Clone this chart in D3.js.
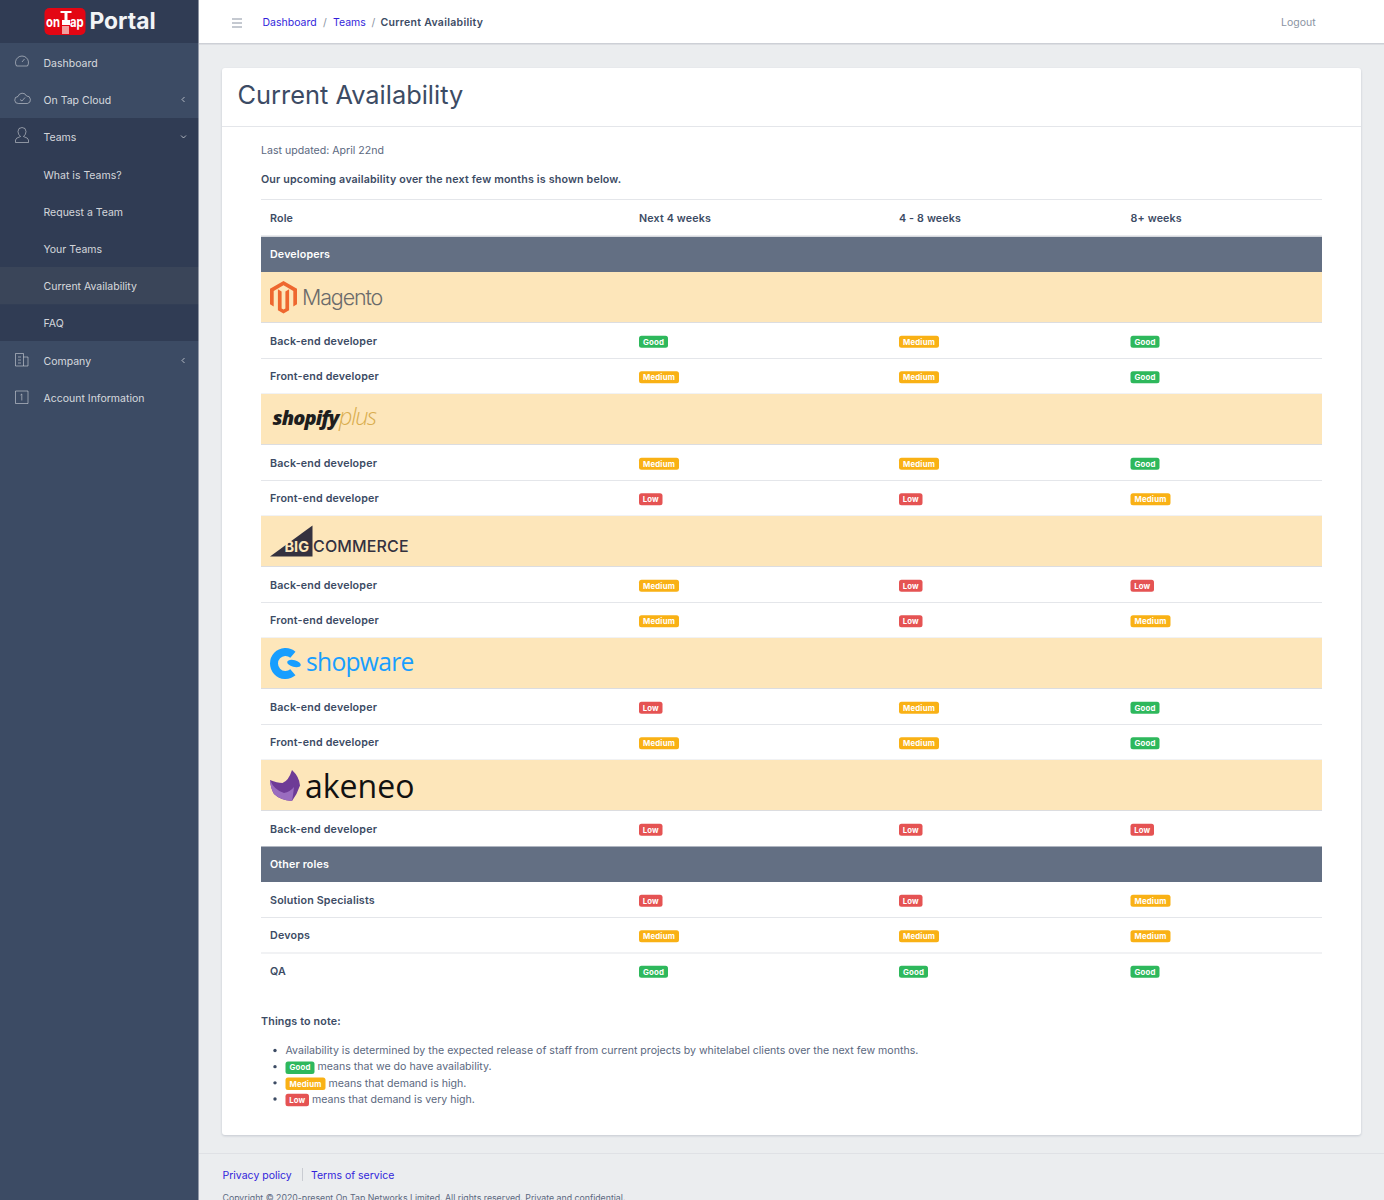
<!DOCTYPE html>
<html lang="en">

<head>
  <meta charset="UTF-8">
  <title>Current Availability</title>
  <style>
    html, body { margin: 0; padding: 0; background: #ebedef; overflow: hidden; }
    svg { display: block; }
    text { font-family: Inter, 'Noto Sans', sans-serif; }
  </style>
</head>

<body>
  <svg id="svg" width="1384" height="1200"></svg>

  <script src="https://d3js.org/d3.v7.min.js"></script>
  <script>
    // chart data
    const columns = ['Next 4 weeks', '4 - 8 weeks', '8+ weeks']
    const levels = ['Good', 'Medium', 'Low']

    const rowKinds = ['section', 'logo', 'role', 'role', 'logo', 'role', 'role', 'logo', 'role', 'role',
      'logo', 'role', 'role', 'logo', 'role', 'section', 'role', 'role', 'role']
    const rowLabels = ['Developers', 'magento', 'Back-end developer', 'Front-end developer',
      'shopify', 'Back-end developer', 'Front-end developer',
      'bigcommerce', 'Back-end developer', 'Front-end developer',
      'shopware', 'Back-end developer', 'Front-end developer',
      'akeneo', 'Back-end developer',
      'Other roles', 'Solution Specialists', 'Devops', 'QA']
    const next4 = [null, null, 'Good', 'Medium', null, 'Medium', 'Low', null, 'Medium', 'Medium',
      null, 'Low', 'Medium', null, 'Low', null, 'Low', 'Medium', 'Good']
    const weeks4to8 = [null, null, 'Medium', 'Medium', null, 'Medium', 'Low', null, 'Low', 'Low',
      null, 'Medium', 'Medium', null, 'Low', null, 'Low', 'Medium', 'Good']
    const weeks8plus = [null, null, 'Good', 'Good', null, 'Good', 'Medium', null, 'Low', 'Medium',
      null, 'Good', 'Good', null, 'Low', null, 'Medium', 'Medium', 'Good']

    const navItems = ['Dashboard', 'On Tap Cloud', 'Teams', 'What is Teams?', 'Request a Team', 'Your Teams',
      'Current Availability', 'FAQ', 'Company', 'Account Information']
    const crumbs = ['Dashboard', 'Teams', 'Current Availability']
    const notes = [
      [null, 'Availability is determined by the expected release of staff from current projects by whitelabel clients over the next few months.'],
      ['Good', 'means that we do have availability.'],
      ['Medium', 'means that demand is high.'],
      ['Low', 'means that demand is very high.']
    ]

    const svg = d3.select('#svg')
    const navy = '#3c4b64'
    const greyText = '#5b6880'
    const linkBlue = '#321fdb'

    const levelColor = d3.scaleOrdinal().domain(levels).range(['#2eb85c', '#f9b115', '#e55353'])
    const badgeWidth = d3.scaleOrdinal().domain(levels).range([29, 40, 23.5])
    const colX = d3.scaleOrdinal().domain(columns).range([639, 899, 1130.5])

    const kindHeight = { section: 35.5, logo: 51, role: 35.5 }
    const rowTop = []
    let cursor = 236.5
    rowKinds.forEach(k => { rowTop.push(cursor); cursor += kindHeight[k] })

    function label(parent, str, x, y, size, fill, weight, spacing) {
      return parent.append('text')
        .text(str)
        .attr('x', x)
        .attr('y', y)
        .attr('font-size', size)
        .attr('fill', fill)
        .attr('font-weight', weight || 400)
        .attr('letter-spacing', spacing || 0)
    }

    function rect(parent, x, y, w, h, fill, rx) {
      return parent.append('rect')
        .attr('x', x).attr('y', y).attr('width', w).attr('height', h)
        .attr('fill', fill).attr('rx', rx || 0)
    }

    function badge(parent, level, x, midY, w, h, size) {
      rect(parent, x, midY - h / 2, w, h, levelColor(level), 2.5)
      label(parent, level, x + w / 2, midY + size * 0.36, size, '#fff', 700, 0.15)
        .attr('text-anchor', 'middle')
    }

    // sidebar
    const nav = svg.append('g')
    rect(svg, 199, 0, 1185, 1200, '#ebedef')
    rect(nav, 0, 0, 199, 1200, navy)
    rect(nav, 0, 0, 199, 43, '#303c54')
    rect(nav, 0, 118, 199, 223, '#303c54')
    rect(nav, 0, 267, 199, 37.3, '#3a4559')
    rect(nav, 198, 0, 1.5, 1200, '#d8dbe0').attr('opacity', 0.55)

    const navY = d3.scalePoint().domain(d3.range(navItems.length)).range([63, 398])
    navItems.forEach((d, i) => {
      label(nav, d, 43.5, navY(i) + 3.9, 10.5, 'rgba(255,255,255,0.8)', 400, 0)
    })

    // nav icons, thin outlines only
    const iconStroke = 'rgba(255,255,255,0.45)'
    const icons = nav.append('g').attr('fill', 'none').attr('stroke', iconStroke).attr('stroke-width', 1)
    icons.append('path').attr('d', 'M16.5 66 a6.5 6.5 0 1 1 11 0 Z M22 62 l2.5 -3')
    icons.append('path').attr('d', 'M18.5 103.5 a3.5 3.5 0 0 1 -.5 -7 a4.5 4.5 0 0 1 8.5 -.5 a3.8 3.8 0 0 1 1 7.5 Z M20 99.5 l2 1.5 l3 -3.5')
    icons.append('path').attr('d', 'M15.5 142.5 v-2.5 q0 -2 5 -3.5 q-2.5 -2 -2.5 -5 q0 -4 4 -4 q4 0 4 4 q0 3 -2.5 5 q5 1.5 5 3.5 v2.5 Z')
    icons.append('path').attr('d', 'M15.5 366 v-12.5 h8 v12.5 Z M23.5 357 h4.5 v9 h-4.5 M18 357 h3 M18 360 h3 M18 363 h3')
    icons.append('path').attr('d', 'M15.5 391 h12.5 v12.5 h-12.5 Z M21.8 394 v6.5 M20.5 395 l1.3 -1')

    const chev = nav.append('g').attr('fill', 'none').attr('stroke', 'rgba(255,255,255,0.6)').attr('stroke-width', 1)
    chev.append('path').attr('d', 'M184.5 97 l-2.5 2.5 l2.5 2.5')
    chev.append('path').attr('d', 'M184.5 358 l-2.5 2.5 l2.5 2.5')
    chev.append('path').attr('d', 'M181 135.5 l2.5 2.5 l2.5 -2.5')

    // brand
    rect(nav, 44.5, 8, 41, 27, '#e30613', 5)
    label(nav, 'on', 0, 0, 14.5, '#fff', 700, 0).attr('transform', 'translate(46 26.5) scale(0.78 1)')
    label(nav, 'ap', 0, 0, 14.5, '#fff', 700, 0).attr('transform', 'translate(70 26.5) scale(0.78 1)')
    rect(nav, 60.5, 11, 11, 2, '#fff')
    rect(nav, 64.5, 11, 3, 11, '#fff')
    rect(nav, 62, 20, 8, 5, '#fff')
    rect(nav, 62, 26, 7, 8, '#f2a0a0')
    label(nav, 'Portal', 89.5, 29, 22.8, '#f2f4f6', 700, 0)

    // top header
    const header = svg.append('g')
    rect(header, 199, 0, 1185, 43, '#fff')
    rect(header, 199, 43, 1185, 1.5, '#cdd0d6')
    const burger = header.append('g').attr('stroke', '#8a93a2').attr('stroke-width', 1)
    ;[19, 23, 27].forEach(y => burger.append('line').attr('x1', 232).attr('x2', 242).attr('y1', y).attr('y2', y))

    const crumbX = d3.scaleOrdinal().domain(crumbs).range([262.5, 333, 380.5])
    crumbs.forEach((d, i) => {
      const last = i === crumbs.length - 1
      label(header, d, crumbX(d), 26, 10.5, last ? navy : linkBlue, last ? 600 : 400, last ? 0.3 : 0)
    })
    label(header, '/', 323, 26, 10.5, '#8a93a2')
    label(header, '/', 371.5, 26, 10.5, '#8a93a2')
    label(header, 'Logout', 1281, 26, 10.5, '#8a93a2', 400, 0)

    // card
    const card = svg.append('g')
    rect(card, 222, 68, 1139, 1067, '#fff', 3)
      .style('filter', 'drop-shadow(0 1px 1px rgba(60,75,100,0.22))')
    rect(card, 222, 126, 1139, 1, '#e4e6ea')
    label(card, 'Current Availability', 237.5, 104, 25.4, navy, 400, 0)
    label(card, 'Last updated: April 22nd', 261, 154.3, 10.6, greyText, 400, 0)
    label(card, 'Our upcoming availability over the next few months is shown below.', 261, 183, 10.7, navy, 600, 0.16)

    // table head
    const table = svg.append('g')
    const tableX = 261
    const tableW = 1061
    rect(table, tableX, 199, tableW, 1, '#e4e6ea')
    label(table, 'Role', 270, 221.5, 10.7, navy, 600, 0.15)
    columns.forEach(c => label(table, c, colX(c), 221.5, 10.7, navy, 600, 0.15))

    const logoDraw = {
      magento(g, y) {
        g.append('path')
          .attr('fill', '#ee672f')
          .attr('d', `M283.5 ${y + 9} l13.5 7.8 v15.5 l-3.7 2.1 v-15.5 l-9.8 -5.7 l-9.8 5.7 v15.5 l-3.7 -2.1 v-15.5 Z`)
        g.append('path')
          .attr('fill', '#ee672f')
          .attr('d', `M281.6 ${y + 19.5} v17 l1.9 1.1 l1.9 -1.1 v-17 l3.7 -2.2 v21 l-5.6 3.3 l-5.6 -3.3 v-21 Z`)
        label(g, 'Magento', 302, y + 33, 21.5, '#6b6b6b', 300, -1.15)
      },
      shopify(g, y) {
        label(g, 'shopify', 272.5, y + 31, 20, '#1e1e1e', 800, -0.9)
          .attr('font-style', 'italic').style('font-family', "'Open Sans'")
        label(g, 'plus', 339, y + 31, 23.5, '#d9ad4e', 300, -1.3)
          .attr('font-style', 'italic').style('font-family', "'Open Sans'")
      },
      bigcommerce(g, y) {
        g.append('path')
          .attr('fill', '#34313f')
          .attr('d', `M270 ${y + 40.5} L312.5 ${y + 9.5} V${y + 40.5} Z`)
        label(g, 'BIG', 284.5, y + 36, 14.5, '#fde6ba', 700, 0)
        label(g, 'COMMERCE', 313, y + 36, 16, '#34313f', 500, 0.15)
      },
      shopware(g, y) {
        g.append('path')
          .attr('fill', 'none')
          .attr('stroke', '#189eff')
          .attr('stroke-width', 8)
          .attr('d', `M292.9 ${y + 16.7} A11.5 11.5 0 1 0 292.9 ${y + 34.3}`)
        g.append('ellipse')
          .attr('cx', 294).attr('cy', y + 25.5).attr('rx', 7).attr('ry', 3.4)
          .attr('fill', '#189eff')
          .attr('transform', `rotate(15 294 ${y + 25.5})`)
        label(g, 'shopware', 306, y + 33, 24.6, '#189eff', 400, -0.7)
          .style('font-family', "'Open Sans'")
      },
      akeneo(g, y) {
        g.append('path')
          .attr('fill', '#6e3b96')
          .attr('d', `M270 ${y + 20} q7 3 12.5 3 q6 -2 9.5 -13 q7.5 7 8 15.5 q-3 9 -8 15.5 q-12 -1 -18 -7 q-3.5 -6 -4 -14 Z`)
        g.append('path')
          .attr('fill', '#9a6cbf')
          .attr('d', `M270 ${y + 20} q4 10 14 13 q6 -1 10 -6 q-1 9 -2 14 q-12 -1 -18 -7 q-3.5 -6 -4 -14 Z`)
        label(g, 'akeneo', 305, y + 38, 32, '#111', 400, 0)
          .style('font-family', "'Open Sans'")
      }
    }

    // rows
    rowKinds.forEach((kind, i) => {
      const y = rowTop[i]
      const h = kindHeight[kind]
      const g = table.append('g')
      if (kind === 'section') {
        rect(g, tableX, y, tableW, h, '#636f83')
        label(g, rowLabels[i], 270, y + h / 2 + 4.1, 10.7, '#fff', 600, 0.15)
        return
      }
      if (kind === 'logo') {
        rect(g, tableX, y, tableW, h - 0.5, '#fde6ba')
        rect(g, tableX, y + h - 1, tableW, 1, '#dcdde0')
        logoDraw[rowLabels[i]](g, y)
        return
      }
      if (rowKinds[i + 1] === 'role' || rowKinds[i + 1] === 'logo') {
        rect(g, tableX, y + h - 0.5, tableW, 1, '#e4e6ea')
      }
      label(g, rowLabels[i], 270, y + h / 2 + 4, 10.7, navy, 600, 0.18)
      const vals = [next4[i], weeks4to8[i], weeks8plus[i]]
      columns.forEach((c, j) => {
        badge(g, vals[j], colX(c), y + h / 2 + 1, badgeWidth(vals[j]), 12, 7.8)
      })
    })

    // rule under the table head sits on top of the first row
    rect(table, tableX, 235.5, tableW, 1.5, '#d5d8dd')

    // notes
    const noteBlock = svg.append('g')
    label(noteBlock, 'Things to note:', 261, 1025, 10.7, navy, 600, 0.15)
    const noteY = d3.scalePoint().domain(d3.range(notes.length)).range([1050.5, 1099])
    notes.forEach((d, i) => {
      const y = noteY(i)
      noteBlock.append('circle').attr('cx', 275).attr('cy', y).attr('r', 1.7).attr('fill', navy)
      let x = 285.5
      if (d[0]) {
        const w = badgeWidth(d[0])
        badge(noteBlock, d[0], x, y + 1, w, 12.5, 7.8)
        x += w + 3
      }
      label(noteBlock, d[1], x, y + 3.8, 10.6, greyText, 400, 0)
    })

    // footer
    const footer = svg.append('g')
    rect(footer, 199, 1153, 1185, 1, '#dfe1e5')
    label(footer, 'Privacy policy', 222.5, 1179, 10.5, linkBlue, 400, 0)
    rect(footer, 302, 1168, 1, 13, '#c9ccd2')
    label(footer, 'Terms of service', 311, 1179, 10.5, linkBlue, 400, 0)
    label(footer, 'Copyright © 2020-present On Tap Networks Limited. All rights reserved. Private and confidential.', 222.5, 1200.5, 8.75, greyText, 400, 0)
  </script>
</body>

</html>
